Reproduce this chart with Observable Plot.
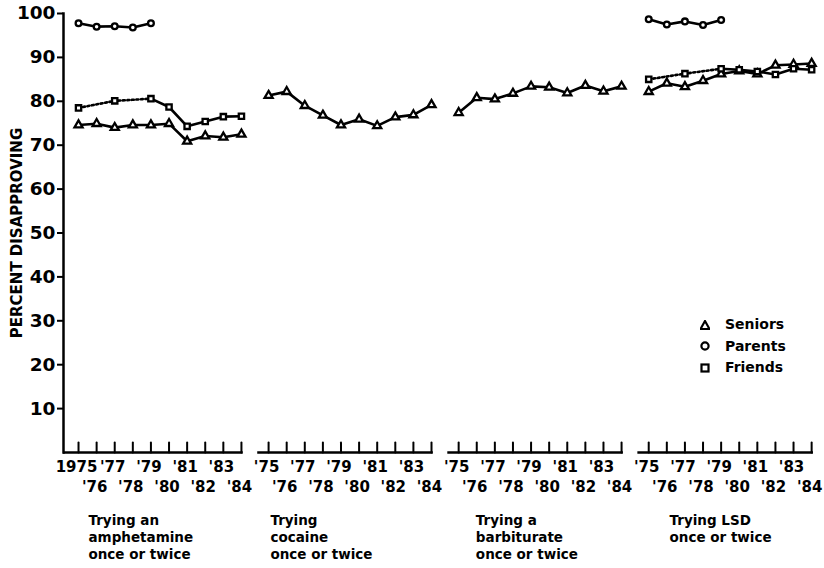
<!DOCTYPE html>
<html><head><meta charset="utf-8">
<script src="https://cdn.jsdelivr.net/npm/d3@7"></script>
<script src="https://cdn.jsdelivr.net/npm/@observablehq/plot@0.6"></script>
<style>
body{margin:0;background:#fff;}
#chart{position:relative;width:824px;height:568px;}
#legend{position:absolute;left:700px;top:314px;font:bold 14px "DejaVu Sans",sans-serif;color:#000;line-height:21.5px;}
#legend div{display:flex;align-items:center;}
#legend svg{margin-right:15px;}
</style></head><body><div id="chart"></div>
<script>
// ---- data ----
const years = [1975, 1976, 1977, 1978, 1979, 1980, 1981, 1982, 1983, 1984];
const panels = ["amphetamine", "cocaine", "barbiturate", "LSD"];
const captions = [
  "Trying an\namphetamine\nonce or twice",
  "Trying\ncocaine\nonce or twice",
  "Trying a\nbarbiturate\nonce or twice",
  "Trying LSD\nonce or twice"
];
const oddLabelsFirst = ["1975", "'77", "'79", "'81", "'83"];
const oddLabels = ["'75", "'77", "'79", "'81", "'83"];
const evenLabels = ["'76", "'78", "'80", "'82", "'84"];
const yTicks = [10, 20, 30, 40, 50, 60, 70, 80, 90, 100];
const seriesNames = ["Seniors", "Parents", "Friends"];

const seniorsAmphetamine = [74.6, 74.9, 74.0, 74.6, 74.6, 74.9, 70.9, 72.1, 71.8, 72.5];
const friendsAmphetamine = [78.5, null, 80.1, null, 80.6, 78.7, 74.3, 75.4, 76.5, 76.6];
const parentsAmphetamine = [97.8, 97.0, 97.1, 96.8, 97.8, null, null, null, null, null];
const seniorsCocaine = [81.3, 82.2, 79.0, 76.8, 74.6, 75.9, 74.4, 76.4, 76.9, 79.2];
const seniorsBarbiturate = [77.4, 80.8, 80.5, 81.8, 83.4, 83.2, 81.9, 83.6, 82.3, 83.4];
const seniorsLSD = [82.2, 84.1, 83.3, 84.7, 86.2, 86.9, 86.2, 88.2, 88.4, 88.6];
const friendsLSD = [85.0, null, 86.3, null, 87.4, 87.2, 86.8, 86.1, 87.4, 87.2];
const parentsLSD = [98.7, 97.5, 98.2, 97.4, 98.5, null, null, null, null, null];

// ---- layout helpers ----
const GAP = 10.5; // panel offset in year units
const pos = (p, i) => p * GAP + i;
const rows = [];
function add(series, p, values) {
  values.forEach((v, i) => { if (v != null) rows.push({series, panel: panels[p], p, year: years[i], value: v, u: pos(p, i)}); });
}
add("Seniors", 0, seniorsAmphetamine);
add("Friends", 0, friendsAmphetamine);
add("Parents", 0, parentsAmphetamine);
add("Seniors", 1, seniorsCocaine);
add("Seniors", 2, seniorsBarbiturate);
add("Seniors", 3, seniorsLSD);
add("Friends", 3, friendsLSD);
add("Parents", 3, parentsLSD);

const tickData = panels.flatMap((name, p) => years.map((y, i) => ({u: pos(p, i)})));
const labelRow1 = panels.flatMap((name, p) => (p === 0 ? oddLabelsFirst : oddLabels).map((t, k) => ({u: pos(p, 2 * k), t})));
const labelRow2 = panels.flatMap((name, p) => evenLabels.map((t, k) => ({u: pos(p, 2 * k + 1), t})));
const axisSegs = panels.map((name, p) => ({x1: p === 0 ? -0.83 : pos(p, 0) - 0.6, x2: pos(p, 9) + 0.1}));
const captionShift = [0.55, 0.1, 0.95, 1.15];
const captionData = captions.map((c, p) => ({u: pos(p, 0) + captionShift[p], c}));

const symbolOf = {Seniors: "triangle", Parents: "circle", Friends: "square"};
const sizeOf = {Seniors: 3.9, Parents: 3.6, Friends: 3.9};

const tickShape = {draw(ctx, l) { ctx.moveTo(0, 0); ctx.lineTo(0, -l); }};

const font = "'DejaVu Sans', sans-serif";

const chart = Plot.plot({
  width: 824,
  height: 568,
  marginTop: 13,
  marginBottom: 116,
  marginLeft: 63,
  marginRight: 2,
  style: {fontFamily: font, fontWeight: "bold", color: "#000", background: "#fff"},
  x: {domain: [-0.83, 41.1], axis: null},
  y: {domain: [0, 100], axis: null},
  marks: [
    Plot.frame({anchor: "left", stroke: "#000", strokeWidth: 2.5}),
    Plot.axisY({ticks: yTicks, tickSize: 6, tickPadding: 2, fontSize: 18.5, fontWeight: "bold", strokeWidth: 2, tickFormat: d => d, label: null}),
    Plot.text(["PERCENT DISAPPROVING"], {text: d => d, frameAnchor: "left", textAnchor: "middle", rotate: -90, dx: -46, fontSize: 15, fontWeight: "bold"}),
    Plot.ruleY(axisSegs, {y: () => 0, x1: "x1", x2: "x2", stroke: "#000", strokeWidth: 2.5}),
    Plot.vector(tickData, {x: "u", y: () => 0, length: 10, shape: tickShape, anchor: "start", stroke: "#000", strokeWidth: 2}),
    Plot.text(labelRow1, {x: "u", frameAnchor: "bottom", dy: 19, dx: -2, text: "t", fontSize: 15}),
    Plot.text(labelRow2, {x: "u", frameAnchor: "bottom", dy: 39, dx: -2, text: "t", fontSize: 15}),
    Plot.text(captionData, {x: "u", frameAnchor: "bottom", dy: 60, text: "c", textAnchor: "start", lineAnchor: "top", lineHeight: 1.28, fontSize: 13.5}),
    // solid lines
    Plot.line(rows.filter(d => d.series !== "Friends"), {x: "u", y: "value", z: d => d.series + d.p, stroke: "#000", strokeWidth: 2.6}),
    Plot.line(rows.filter(d => d.series === "Friends" && d.year >= 1979), {x: "u", y: "value", z: "p", stroke: "#000", strokeWidth: 2.6}),
    // dotted lines
    Plot.line(rows.filter(d => d.series === "Friends" && d.year <= 1979), {x: "u", y: "value", z: "p", stroke: "#000", strokeWidth: 2.6, strokeDasharray: "2,2.5"}),
    Plot.dot(rows, {x: "u", y: "value", symbol: d => symbolOf[d.series], r: d => sizeOf[d.series], fill: "#fff", stroke: "#000", strokeWidth: 2.3})
  ]
});
document.getElementById("chart").appendChild(chart);

// legend
const legend = document.createElement("div");
legend.id = "legend";
const shapes = {
  Seniors: '<polygon points="5,1 9.5,9 0.5,9" fill="#fff" stroke="#000" stroke-width="2.2"/>',
  Parents: '<circle cx="5" cy="5" r="3.6" fill="#fff" stroke="#000" stroke-width="2.2"/>',
  Friends: '<rect x="1.5" y="1.5" width="7" height="7" fill="#fff" stroke="#000" stroke-width="2.2"/>'
};
seriesNames.forEach(n => {
  const row = document.createElement("div");
  row.innerHTML = `<svg width="10" height="10" viewBox="0 0 10 10">${shapes[n]}</svg><span>${n}</span>`;
  legend.appendChild(row);
});
document.getElementById("chart").appendChild(legend);
</script>
</body></html>
